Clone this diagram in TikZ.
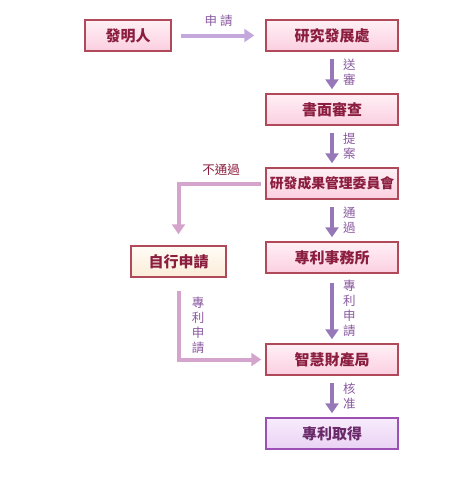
\documentclass[tikz,border=0pt]{standalone}
\usepackage{fontspec}
\usepackage{tikz}
\usetikzlibrary{positioning,arrows.meta,calc}
\newfontfamily\tcfont{Noto Sans CJK TC}
\definecolor{boxline}{HTML}{B04A5A}
\definecolor{boxtext}{HTML}{8B1E3F}
\definecolor{pinktop}{HTML}{FFF0F5}
\definecolor{pinkbot}{HTML}{FBCFE0}
\definecolor{dnline}{HTML}{9678B8}
\definecolor{toparrow}{HTML}{C4A8DC}
\definecolor{labtext}{HTML}{8A5AA0}
\definecolor{sideline}{HTML}{D4A4CC}
\definecolor{creamtop}{HTML}{FFFCF6}
\definecolor{creambot}{HTML}{FBECD8}
\definecolor{lavline}{HTML}{9A50B4}
\definecolor{lavtop}{HTML}{F8ECFC}
\definecolor{lavbot}{HTML}{EAD2F4}
\definecolor{lavtext}{HTML}{6A2A6A}

\begin{document}
\begin{tikzpicture}[x=1pt,y=-1pt,
  box/.style={draw=boxline, line width=1.5pt, top color=pinktop, bottom color=pinkbot,
    minimum width=132pt, minimum height=31pt, inner sep=0pt,
    font=\tcfont\bfseries\fontsize{15}{17}\selectfont, text=boxtext},
  dnarrow/.style={draw=dnline, line width=4pt, -{Triangle[length=10pt,width=13pt]},
    shorten <=7pt, shorten >=4pt},
  lab/.style={font=\tcfont\fontsize{12.5}{15}\selectfont, text=labtext, align=center, inner sep=0pt}]
\useasboundingbox (0,0) rectangle (463,479);
% boxes
\node[box, minimum width=86pt] (fm) at (128,35.5) {發明人};
\node[box] (yf) at (332,35.5) {研究發展處};
\node[box] (sm) at (332,109.5) {書面審查};
\node[box, font=\tcfont\bfseries\fontsize{13.8}{15}\selectfont] (wy) at (332,183.5) {研發成果管理委員會};
\node[box] (sw) at (332,257.5) {專利事務所};
\node[box, minimum width=95pt, top color=creamtop, bottom color=creambot] (zx) at (178.5,261.5) {自行申請};
\node[box] (zc) at (332,359.5) {智慧財產局};
\node[box, draw=lavline, top color=lavtop, bottom color=lavbot, text=lavtext] (qd) at (332,433.5) {專利取得};
% main flow
\draw[dnarrow, draw=toparrow, shorten <=9pt, shorten >=11pt] (fm) -- (yf)
  node[lab, midway, above=7pt] {申\hspace{3pt}請};
\draw[dnarrow] (yf) -- node[lab, right=9pt] {送\\審} (sm);
\draw[dnarrow] (sm) -- node[lab, right=9pt] {提\\案} (wy);
\draw[dnarrow] (wy) -- node[lab, right=9pt] {通\\過} (sw);
\draw[dnarrow, shorten <=9pt] (sw) -- node[lab, right=9pt] {專\\利\\申\\請} (zc);
\draw[dnarrow] (zc) -- node[lab, right=9pt] {核\\准} (qd);
% side route
\draw[dnarrow, draw=sideline, shorten <=4pt, shorten >=11pt] (wy.west) -| (zx.north);
\node[lab, text=boxtext] (btg) at (221,170) {不通過};
\draw[dnarrow, draw=sideline, shorten <=13pt, shorten >=4pt] (zx.south) |- (zc.west);
\node[lab] (zlsq) at (198,325) {專\\利\\申\\請};
\end{tikzpicture}
\end{document}
